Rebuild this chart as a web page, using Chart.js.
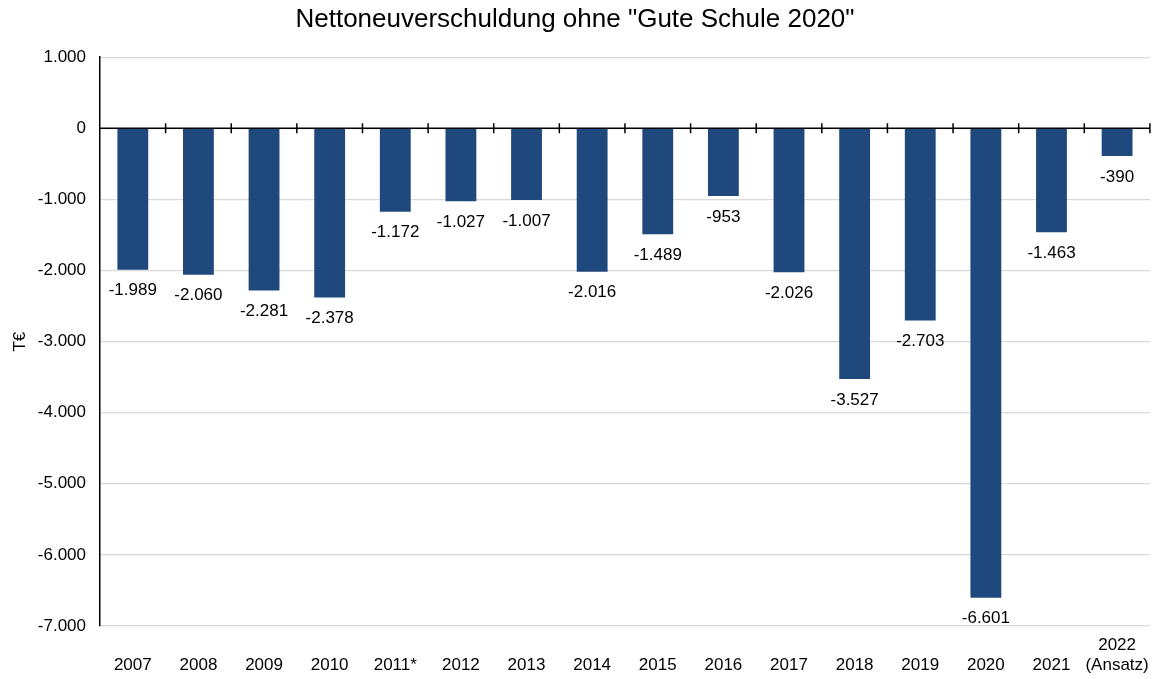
<!DOCTYPE html>
<html lang="de">
<head>
<meta charset="UTF-8">
<title>Nettoneuverschuldung</title>
<script src="https://cdn.jsdelivr.net/npm/chart.js@4.4.0/dist/chart.umd.min.js"></script>
<style>
  html, body { margin: 0; padding: 0; background: #fff; }
  #wrap { width: 1158px; height: 679px; }
</style>
</head>
<body>
<div id="wrap"><canvas id="chart"></canvas></div>
<script>
const years = ['2007', '2008', '2009', '2010', '2011*', '2012', '2013', '2014',
               '2015', '2016', '2017', '2018', '2019', '2020', '2021', '2022'];
const yearNotes = ['', '', '', '', '', '', '', '', '', '', '', '', '', '', '', '(Ansatz)'];
const debt = [-1989, -2060, -2281, -2378, -1172, -1027, -1007, -2016,
              -1489, -953, -2026, -3527, -2703, -6601, -1463, -390];

// two-line labels so that "(Ansatz)" sits on the same line as the years
const labels = years.map((y, i) => yearNotes[i] ? [y, yearNotes[i]] : ['', y]);

function fmt(v) {
  const s = Math.abs(v).toString().replace(/\B(?=(\d{3})+(?!\d))/g, '.');
  return (v < 0 ? '-' : '') + s;
}

const FONT = '"Liberation Sans", Arial, sans-serif';

// value labels under each bar + small tick marks on the zero line
const extras = {
  id: 'extras',
  afterDatasetsDraw(chart) {
    const ctx = chart.ctx;
    const meta = chart.getDatasetMeta(0);
    const x = chart.scales.x, y = chart.scales.y;
    const y0 = y.getPixelForValue(0);
    const step = x.getPixelForValue(1) - x.getPixelForValue(0);

    ctx.save();
    ctx.strokeStyle = '#000';
    ctx.lineWidth = 1.5;
    ctx.beginPath();
    ctx.moveTo(chart.chartArea.left, y0);
    ctx.lineTo(chart.chartArea.right, y0);
    for (let i = 0; i < years.length; i++) {
      const bx = x.getPixelForValue(i) + step / 2;
      ctx.moveTo(bx, y0 - 5);
      ctx.lineTo(bx, y0 + 5);
    }
    ctx.stroke();

    ctx.fillStyle = '#000';
    ctx.font = '17px ' + FONT;
    ctx.textAlign = 'center';
    ctx.textBaseline = 'middle';
    meta.data.forEach((bar, i) => {
      ctx.fillText(fmt(debt[i]), bar.x, bar.y + 21);
    });
    ctx.restore();
  }
};

new Chart(document.getElementById('chart'), {
  type: 'bar',
  data: {
    labels: labels,
    datasets: [{
      data: debt,
      backgroundColor: '#1F497D',
      borderWidth: 0,
      barPercentage: 0.47,
      categoryPercentage: 1.0
    }]
  },
  options: {
    responsive: true,
    maintainAspectRatio: false,
    animation: false,
    layout: { padding: { left: 0, right: 8, top: 0, bottom: 0 } },
    plugins: {
      legend: { display: false },
      tooltip: { enabled: false },
      title: {
        display: true,
        text: 'Nettoneuverschuldung ohne "Gute Schule 2020"',
        color: '#000',
        font: { family: FONT, size: 26, weight: 'normal' },
        padding: { top: 4, bottom: 22 }
      }
    },
    scales: {
      x: {
        afterFit(scale) { scale.height = 53; },
        grid: { display: false, drawTicks: false },
        border: { display: false },
        ticks: {
          color: '#000',
          font: { family: FONT, size: 17 },
          padding: 9,
          maxRotation: 0,
          autoSkip: false
        }
      },
      y: {
        min: -7000,
        max: 1000,
        afterFit(scale) { scale.width = 100; },
        ticks: {
          stepSize: 1000,
          color: '#000',
          font: { family: FONT, size: 17 },
          padding: 14,
          callback: v => fmt(v)
        },
        grid: {
          color: '#d9d9d9',
          lineWidth: 1.2,
          drawTicks: false
        },
        border: { display: true, color: '#000', width: 1.5 },
        title: {
          display: true,
          text: 'T€',
          color: '#000',
          font: { family: FONT, size: 17 },
          padding: { top: 10, bottom: 0 }
        }
      }
    }
  },
  plugins: [extras]
});
</script>
</body>
</html>
